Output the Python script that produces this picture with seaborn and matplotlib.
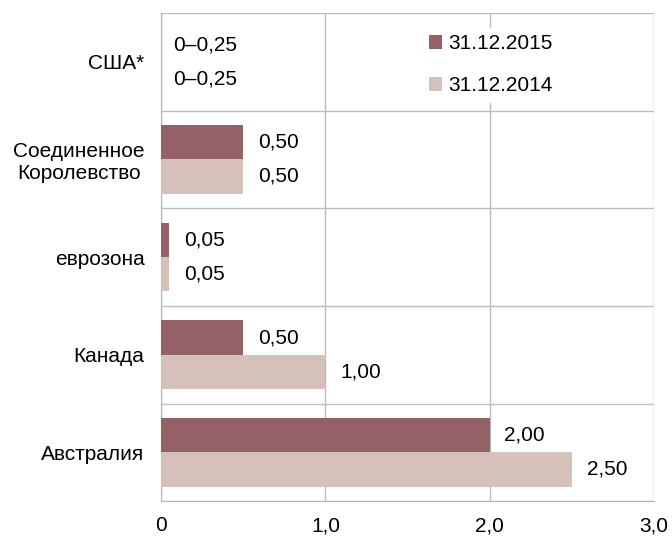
import pandas as pd
import numpy as np
import matplotlib.pyplot as plt
import seaborn as sns

# Data
countries = ['США*', 'Соединенное\nКоролевство', 'еврозона', 'Канада', 'Австралия']
rate_2015 = [0.0, 0.50, 0.05, 0.50, 2.00]
rate_2014 = [0.0, 0.50, 0.05, 1.00, 2.50]
usa_label = '0–0,25'
series = ['31.12.2015', '31.12.2014']
x_ticks = [0, 1, 2, 3]
x_tick_labels = ['0', '1,0', '2,0', '3,0']

df = pd.DataFrame({
    'country': countries * 2,
    'rate': rate_2015 + rate_2014,
    'date': [series[0]] * len(countries) + [series[1]] * len(countries),
})

sns.set_style('white')
plt.rcParams['font.family'] = ['Liberation Sans', 'DejaVu Sans']
plt.rcParams['text.color'] = 'black'
plt.rcParams['xtick.color'] = 'black'
plt.rcParams['ytick.color'] = 'black'

fig = plt.figure(figsize=(6.72, 5.36), dpi=100)
ax = fig.add_axes([0.24, 0.065, 0.733, 0.911])

palette = {series[0]: '#946167', series[1]: '#D5C1BA'}
sns.barplot(data=df, y='country', x='rate', hue='date', palette=palette,
            orient='h', width=0.7, ax=ax, saturation=1, zorder=3,
            linewidth=0, edgecolor='none')

ax.set_xlim(0, 3)
ax.set_ylim(len(countries) - 0.5, -0.5)
ax.set_xticks(x_ticks)
ax.set_xticklabels(x_tick_labels, fontsize=15)
ax.tick_params(axis='x', length=5, width=1, color='#B5B5B5', labelcolor='black', pad=6)
ax.tick_params(axis='y', which='major', length=0, labelsize=15, labelcolor='black', pad=12)
ax.set_yticks(np.arange(-0.5, len(countries)), minor=True)
ax.tick_params(axis='y', which='minor', length=5, width=1, color='#B5B5B5')
for lab in ax.get_yticklabels():
    lab.set_multialignment('center')
ax.set_xlabel('')
ax.set_ylabel('')

ax.grid(axis='x', which='major', color='#BDBDBD', lw=1, zorder=0)
ax.grid(axis='y', which='minor', color='#BDBDBD', lw=1, zorder=0)
for side in ['top', 'right']:
    ax.spines[side].set_visible(False)
ax.spines['left'].set_color('#B5B5B5')
ax.spines['bottom'].set_color('#B5B5B5')

# value labels
for container, vals in zip(ax.containers, [rate_2015, rate_2014]):
    labels = [usa_label if i == 0 else f'{v:.2f}'.replace('.', ',')
              for i, v in enumerate(vals)]
    for bar, v, lab in zip(container, vals, labels):
        y = bar.get_y() + bar.get_height() / 2
        off = 0.07 if v == 0 else 0.09
        ax.text(v + off, y, lab, va='center', ha='left', fontsize=15,
                color='black', zorder=4)

leg = ax.legend(loc='upper left', bbox_to_anchor=(0.51, 0.99), frameon=True,
                fontsize=15, handlelength=0.6, handleheight=0.6,
                handletextpad=0.3, labelspacing=1.1, borderpad=0.3)
leg.get_frame().set_edgecolor('white')
leg.get_frame().set_facecolor('white')
leg.get_frame().set_alpha(1)
leg.set_zorder(5)

fig.savefig('out.png', dpi=100)
